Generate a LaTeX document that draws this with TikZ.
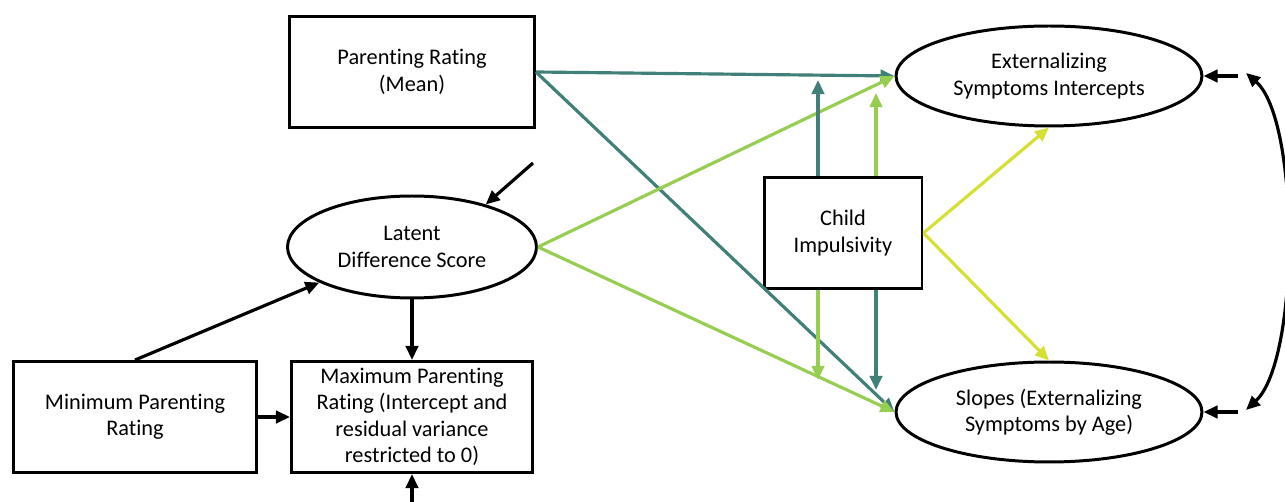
\documentclass[tikz,border=0pt]{standalone}
\usepackage{fontspec}
\setmainfont[Ligatures=NoCommon]{Carlito}
\usetikzlibrary{shapes.geometric,arrows.meta}
\definecolor{tealarr}{RGB}{64,128,120}
\definecolor{greenarr}{RGB}{150,206,82}
\definecolor{yellowarr}{RGB}{214,224,52}
\begin{document}
\begin{tikzpicture}[x=0.02cm,y=-0.02cm,
		font=\fontsize{12.7}{15}\selectfont,
		box/.style={draw,line width=1.7pt,align=center,inner sep=0pt},
		oval/.style={draw,ellipse,line width=1.7pt,align=center,inner sep=0pt},
		path/.style={line width=1.8pt,-{Triangle[length=8pt,width=7pt]}}]
			\useasboundingbox(0,0)rectangle(1285,502);
			\node[box,minimum width=4.9cm,minimum height=2.22cm](pm)at(412,72){Parenting Rating\\(Mean)};
			\node[oval,minimum width=4.98cm,minimum height=2.04cm](lds)at(412,247){Latent\\Difference Score};
			\node[box,minimum width=4.88cm,minimum height=2.22cm](minr)at(135,417){Minimum Parenting\\Rating};
			\node[box,minimum width=4.82cm,minimum height=2.22cm](maxr)at(412,417){Maximum Parenting\\Rating (Intercept and\\residual variance\\restricted to 0)};
			\node[box,minimum width=3.16cm,minimum height=2.22cm](child)at(843,233){Child\\Impulsivity};
			\node[oval,minimum width=6.12cm,minimum height=2cm](ext)at(1049,76){Externalizing\\Symptoms Intercepts};
			\node[oval,minimum width=6.12cm,minimum height=2cm](slp)at(1049,412){Slopes (Externalizing\\Symptoms by Age)};
			\coordinate(tu)at(818,80);
			\coordinate(gu)at(876,93);
			\coordinate(gd)at(818,380);
			\coordinate(td)at(876,390);
			\coordinate(res)at(533,163);
			\coordinate(bot)at(412,502);
			\coordinate(r1)at(1238,76);
			\coordinate(r2)at(1238,412);
			\coordinate(c1)at(1246,73);
			\coordinate(c2)at(1246,410);
			\draw[path,tealarr](pm.east)--(ext.west);
			\draw[path,tealarr](pm.east)--(slp.west);
			\draw[path,greenarr](lds.east)--(ext.west);
			\draw[path,greenarr](lds.east)--(slp.west);
			\draw[path,tealarr](child.north-|tu)--(tu);
			\draw[path,greenarr](child.north-|gu)--(gu);
			\draw[path,greenarr](child.south-|gd)--(gd);
			\draw[path,tealarr](child.south-|td)--(td);
			\draw[path,yellowarr](child.east)--(ext.south);
			\draw[path,yellowarr](child.east)--(slp.north);
			\draw[path](res)--(lds.30);
			\draw[path](minr.north)--(lds.201);
			\draw[path](lds.south)--(maxr.north);
			\draw[path](minr.east)--(maxr.west);
			\draw[path](bot)--(maxr.south);
			\draw[path](r1)--(ext.east);
			\draw[path](r2)--(slp.east);
			\draw[line width=1.8pt,{Triangle[length=8pt,width=7pt]}-{Triangle[length=8pt,width=7pt]}](c1)..controls(1300,120)and(1300,360)..(c2);
		\end{tikzpicture}
\end{document}
